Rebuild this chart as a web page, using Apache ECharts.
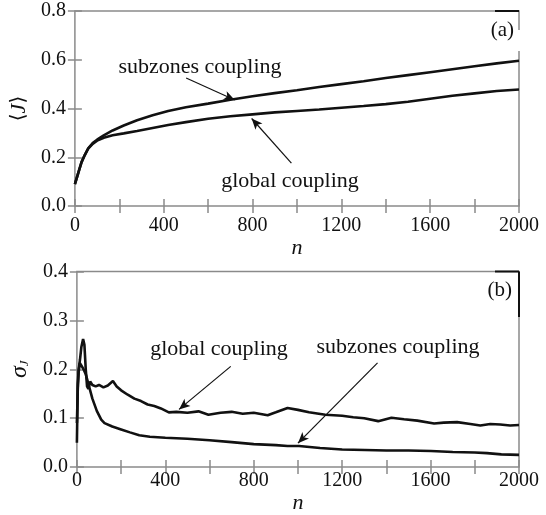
<!DOCTYPE html>
<html>
<head>
<meta charset="utf-8">
<script src="https://cdn.jsdelivr.net/npm/echarts@6/dist/echarts.min.js"></script>
<style>
  html, body { margin: 0; padding: 0; background: #fff; }
  #chart { width: 546px; height: 515px; }
</style>
</head>
<body>
<div id="chart"></div>
<script>
// panel (a): mean J vs n
var nTop = [0, 10, 20, 30, 45, 60, 80, 100, 130, 170, 220, 280, 350, 420, 500, 600, 700, 800, 900, 1000, 1100, 1200, 1300, 1400, 1500, 1600, 1700, 1800, 1900, 2000];
var globalTop = [0.09, 0.12, 0.15, 0.18, 0.21, 0.235, 0.255, 0.268, 0.28, 0.29, 0.298, 0.308, 0.32, 0.332, 0.344, 0.358, 0.368, 0.376, 0.384, 0.39, 0.396, 0.403, 0.41, 0.418, 0.428, 0.44, 0.452, 0.462, 0.472, 0.478];
var subzonesTop = [0.09, 0.12, 0.15, 0.18, 0.21, 0.237, 0.258, 0.272, 0.29, 0.31, 0.33, 0.352, 0.372, 0.39, 0.405, 0.42, 0.436, 0.45, 0.463, 0.475, 0.488, 0.5, 0.512, 0.525, 0.537, 0.549, 0.561, 0.573, 0.585, 0.596];

// panel (b): sigma_J vs n
var nGlobalBot = [0, 4, 8, 14, 20, 28, 34, 40, 46, 52, 60, 70, 85, 100, 120, 140, 163, 180, 200, 230, 260, 290, 320, 350, 380, 416, 450, 500, 550, 595, 650, 700, 750, 800, 863, 900, 953, 1000, 1050, 1124, 1200, 1250, 1300, 1363, 1423, 1480, 1540, 1616, 1660, 1720, 1780, 1825, 1870, 1915, 1960, 2000];
var globalBot = [0.05, 0.17, 0.2, 0.22, 0.245, 0.262, 0.25, 0.2, 0.165, 0.16, 0.175, 0.168, 0.165, 0.168, 0.163, 0.167, 0.176, 0.165, 0.157, 0.148, 0.14, 0.135, 0.128, 0.125, 0.12, 0.112, 0.113, 0.111, 0.114, 0.107, 0.111, 0.113, 0.109, 0.111, 0.106, 0.112, 0.121, 0.117, 0.112, 0.107, 0.105, 0.102, 0.1, 0.094, 0.101, 0.098, 0.095, 0.089, 0.091, 0.092, 0.088, 0.085, 0.088, 0.087, 0.085, 0.086];
var nSubBot = [0, 4, 8, 13, 20, 30, 40, 55, 70, 90, 110, 125, 160, 200, 240, 282, 330, 400, 500, 600, 700, 800, 900, 953, 1005, 1100, 1200, 1303, 1400, 1500, 1602, 1700, 1800, 1855, 1920, 2000];
var subzonesBot = [0.09, 0.16, 0.195, 0.213, 0.208, 0.2, 0.19, 0.165, 0.14, 0.115, 0.097, 0.09, 0.083, 0.077, 0.071, 0.065, 0.062, 0.06, 0.058, 0.055, 0.051, 0.047, 0.045, 0.043, 0.043, 0.039, 0.036, 0.035, 0.034, 0.034, 0.033, 0.031, 0.03, 0.0285, 0.026, 0.025];

var xTicks = [0, 400, 800, 1200, 1600, 2000];

var serif = 'Liberation Serif';
var frame = '#8a8a8a';

function pairs(xs, ys) {
  return xs.map(function (x, i) { return [x, ys[i]]; });
}

function xAxes(grid, margin, nameGap) {
  return [
    {
      type: 'value', gridIndex: grid, min: 0, max: 2000, interval: 200,
      name: 'n', nameLocation: 'middle', nameGap: nameGap,
      nameTextStyle: { fontFamily: serif, fontStyle: 'italic', fontSize: 22, color: '#111' },
      axisLine: { show: false },
      axisTick: { inside: true, length: 7, lineStyle: { color: frame, width: 1.5 } },
      axisLabel: {
        margin: margin, fontFamily: serif, fontSize: 20, color: '#111',
        formatter: function (v) { return xTicks.indexOf(v) >= 0 ? String(v) : ''; }
      },
      splitLine: { show: false }
    },
    {
      type: 'value', gridIndex: grid, position: 'top', min: 0, max: 2000, interval: 200,
      axisLine: { show: false },
      axisTick: { inside: true, length: 7, lineStyle: { color: frame, width: 1.5 } },
      axisLabel: { show: false },
      splitLine: { show: false }
    }
  ];
}

function yAxes(grid, max, step, name, gap) {
  return [
    {
      type: 'value', gridIndex: grid, min: 0, max: max, interval: step,
      name: name, nameLocation: 'middle', nameGap: gap,
      nameTextStyle: {
        fontFamily: serif, fontSize: 22, color: '#111',
        rich: {
          a: { fontFamily: 'DejaVu Serif', fontSize: 20, color: '#111' },
          j: { fontFamily: serif, fontStyle: 'italic', fontSize: 22, color: '#111' },
          s: { fontFamily: serif, fontStyle: 'italic', fontSize: 24, color: '#111' },
          sub: { fontFamily: serif, fontStyle: 'italic', fontSize: 13, color: '#111', padding: [10, 0, 0, 0] }
        }
      },
      axisLine: { show: false },
      axisTick: { inside: true, length: 7, lineStyle: { color: frame, width: 1.5 } },
      axisLabel: {
        margin: 9, fontFamily: serif, fontSize: 20, color: '#111',
        formatter: function (v) { return v.toFixed(1); }
      },
      splitLine: { show: false }
    },
    {
      type: 'value', gridIndex: grid, position: 'right', min: 0, max: max, interval: step,
      axisLine: { show: false },
      axisTick: { inside: true, length: 7, lineStyle: { color: frame, width: 1.5 } },
      axisLabel: { show: false },
      splitLine: { show: false }
    }
  ];
}

function curve(name, data, xi, yi, arrow) {
  var s = {
    name: name, type: 'line', xAxisIndex: xi, yAxisIndex: yi,
    data: data, showSymbol: false, smooth: false,
    lineStyle: { color: '#111', width: 2.6 },
    silent: true
  };
  if (arrow) {
    s.markLine = {
      silent: true, symbol: ['none', 'arrow'], symbolSize: [7, 11],
      label: { show: false },
      lineStyle: { color: '#111', width: 1.2, type: 'solid' },
      data: [[{ coord: arrow[0] }, { coord: arrow[1] }]]
    };
  }
  return s;
}

function label(text, x, y, size, align) {
  return {
    type: 'text', x: x, y: y, silent: true,
    style: {
      text: text, fontFamily: serif, fontSize: size, fill: '#111',
      align: align || 'center', verticalAlign: 'middle'
    }
  };
}

var chart = echarts.init(document.getElementById('chart'));
chart.setOption({
  animation: false,
  backgroundColor: '#fff',
  textStyle: { fontFamily: serif },
  grid: [
    { left: 72, right: 27, top: 11, height: 195, show: true, borderColor: frame, borderWidth: 1.5 },
    { left: 72, right: 27, top: 271.5, height: 196.5, show: true, borderColor: frame, borderWidth: 1.5 }
  ],
  xAxis: xAxes(0, 10, 26).concat(xAxes(1, 4, 16)),
  yAxis: yAxes(0, 0.8, 0.2, '{a|⟨}{j|J}{a|⟩}', 38).concat(yAxes(1, 0.4, 0.1, '{s|σ}{sub|J}', 40)),
  series: [
    curve('global coupling', pairs(nTop, globalTop), 0, 0, [[975, 0.176], [796, 0.359]]),
    curve('subzones coupling', pairs(nTop, subzonesTop), 0, 0, [[501, 0.525], [720, 0.435]]),
    curve('global coupling', pairs(nGlobalBot, globalBot), 2, 2, [[696, 0.206], [462, 0.118]]),
    curve('subzones coupling', pairs(nSubBot, subzonesBot), 2, 2, [[1360, 0.213], [1000, 0.049]])
  ],
  graphic: [
    label('subzones coupling', 200, 67, 22),
    label('global coupling', 290, 181, 22),
    label('global coupling', 219, 349, 22),
    label('subzones coupling', 398, 347, 22),
    label('(a)', 514, 30, 21, 'right'),
    label('(b)', 512, 290, 21, 'right'),
    // scan artefacts on the frame corners
    { type: 'line', silent: true, shape: { x1: 495, y1: 11, x2: 519, y2: 11 }, style: { stroke: '#111', lineWidth: 2 } },
    { type: 'line', silent: true, shape: { x1: 519, y1: 30, x2: 519, y2: 51 }, style: { stroke: '#fff', lineWidth: 3 } },
    { type: 'line', silent: true, shape: { x1: 495, y1: 271.5, x2: 519, y2: 271.5 }, style: { stroke: '#111', lineWidth: 2 } },
    { type: 'line', silent: true, shape: { x1: 519, y1: 271.5, x2: 519, y2: 317 }, style: { stroke: '#111', lineWidth: 2 } }
  ]
});
</script>
</body>
</html>
